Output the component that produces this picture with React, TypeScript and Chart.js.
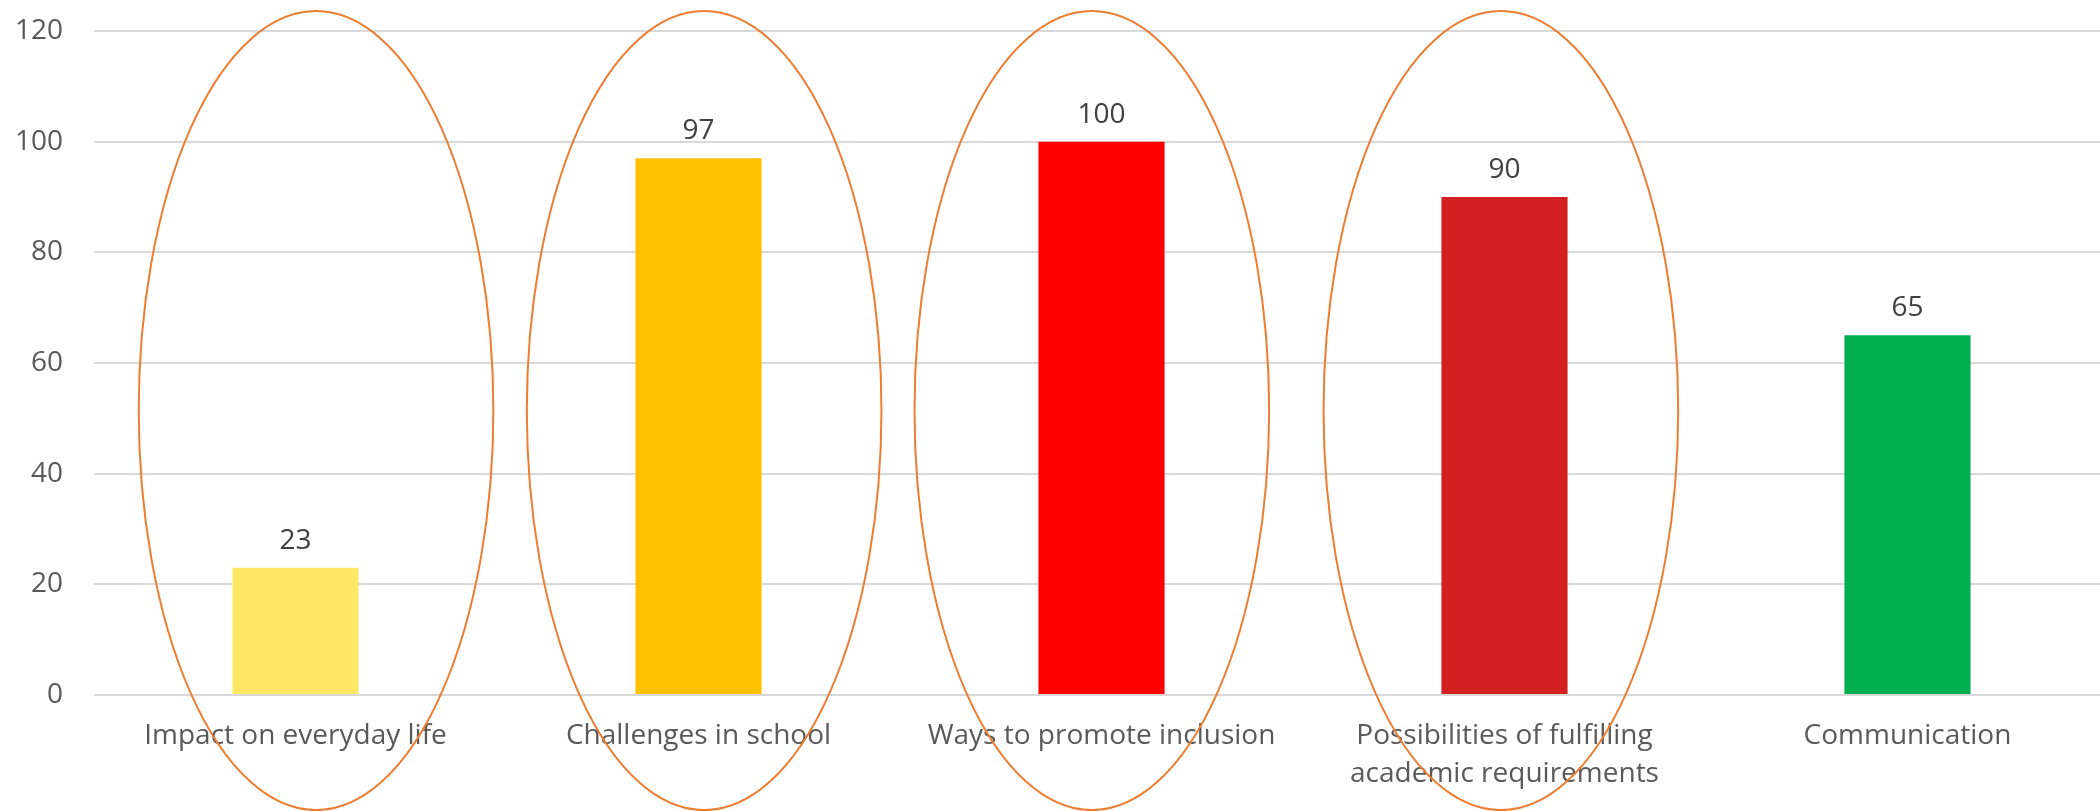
import React, { useEffect, useRef } from "react";
import { Chart, registerables } from "chart.js";

Chart.register(...registerables);

// ---- data ----
const categories: (string | string[])[] = [
  "Impact on everyday life",
  "Challenges in school",
  "Ways to promote inclusion",
  ["Possibilities of fulfilling", "academic requirements"],
  "Communication",
];
const values = [23, 97, 100, 90, 65];
const barColors = ["#FFE766", "#FFC000", "#FF0000", "#D32020", "#00B050"];
const yMin = 0;
const yMax = 120;
const yStep = 20;

// categories circled by hand-drawn ellipses (category index)
const circledCategories = [0, 1, 2, 3];
// small horizontal offsets of each ellipse (category units)
const circleOffsets = [0.051, 0.014, -0.024, -0.009];

const FONT = "'Open Sans', 'Liberation Sans', sans-serif";

const ellipsePlugin = {
  id: "ellipses",
  afterDraw(chart: any) {
    const { ctx, scales } = chart;
    const xs = scales.x;
    const ys = scales.y;
    const catW = xs.getPixelForValue(1) - xs.getPixelForValue(0);
    const rx = catW * 0.44;
    const cy = ys.getPixelForValue(51.4);
    const ry = Math.abs(ys.getPixelForValue(51.4 + 72.2) - cy);
    ctx.save();
    ctx.strokeStyle = "#ED7D31";
    ctx.lineWidth = 2;
    circledCategories.forEach((ci, k) => {
      const cx = xs.getPixelForValue(ci + circleOffsets[k]);
      ctx.beginPath();
      ctx.ellipse(cx, cy, rx, ry, 0, 0, Math.PI * 2);
      ctx.stroke();
    });
    ctx.restore();
  },
};

const valueLabelPlugin = {
  id: "valueLabels",
  afterDatasetsDraw(chart: any) {
    const { ctx } = chart;
    const meta = chart.getDatasetMeta(0);
    ctx.save();
    ctx.font = `28px ${FONT}`;
    ctx.fillStyle = "#404040";
    ctx.textAlign = "center";
    ctx.textBaseline = "alphabetic";
    meta.data.forEach((bar: any, i: number) => {
      ctx.fillText(String(values[i]), bar.x, bar.y - 19);
    });
    ctx.restore();
  },
};

export default function App() {
  const ref = useRef<HTMLCanvasElement | null>(null);

  useEffect(() => {
    document.body.style.margin = "0";
    document.body.style.overflow = "hidden";
    const canvas = ref.current!;
    const chart = new Chart(canvas, {
      type: "bar",
      data: {
        labels: categories as any,
        datasets: [
          {
            data: values,
            backgroundColor: barColors,
            borderWidth: 0,
            barPercentage: 0.313,
            categoryPercentage: 1,
          },
        ],
      },
      options: {
        responsive: false,
        animation: false,
        devicePixelRatio: 1,
        layout: { padding: { top: 31, right: 1, bottom: 0, left: 0 } },
        plugins: {
          legend: { display: false },
          tooltip: { enabled: false },
        },
        scales: {
          x: {
            grid: { display: false },
            border: { display: false },
            ticks: {
              color: "#595959",
              font: { family: FONT, size: 28, lineHeight: 1.36 },
              padding: 14,
              maxRotation: 0,
              autoSkip: false,
            },
            afterFit(scale: any) {
              scale.height = 116;
            },
          },
          y: {
            min: yMin,
            max: yMax,
            grid: { color: "#D9D9D9", lineWidth: 2, drawTicks: false },
            border: { display: false },
            ticks: {
              stepSize: yStep,
              color: "#595959",
              font: { family: FONT, size: 28 },
              padding: 31,
            },
            afterFit(scale: any) {
              scale.width = 94;
              scale.paddingTop = 0;
              scale.paddingBottom = 0;
            },
          },
        },
      },
      plugins: [valueLabelPlugin, ellipsePlugin],
    });
    return () => chart.destroy();
  }, []);

  return (
    <div
      style={{
        position: "fixed",
        left: 0,
        top: 0,
        width: 2100,
        height: 811,
        overflow: "hidden",
        background: "#fff",
      }}
    >
      <canvas ref={ref} width={2110} height={811} style={{ display: "block" }} />
    </div>
  );
}
